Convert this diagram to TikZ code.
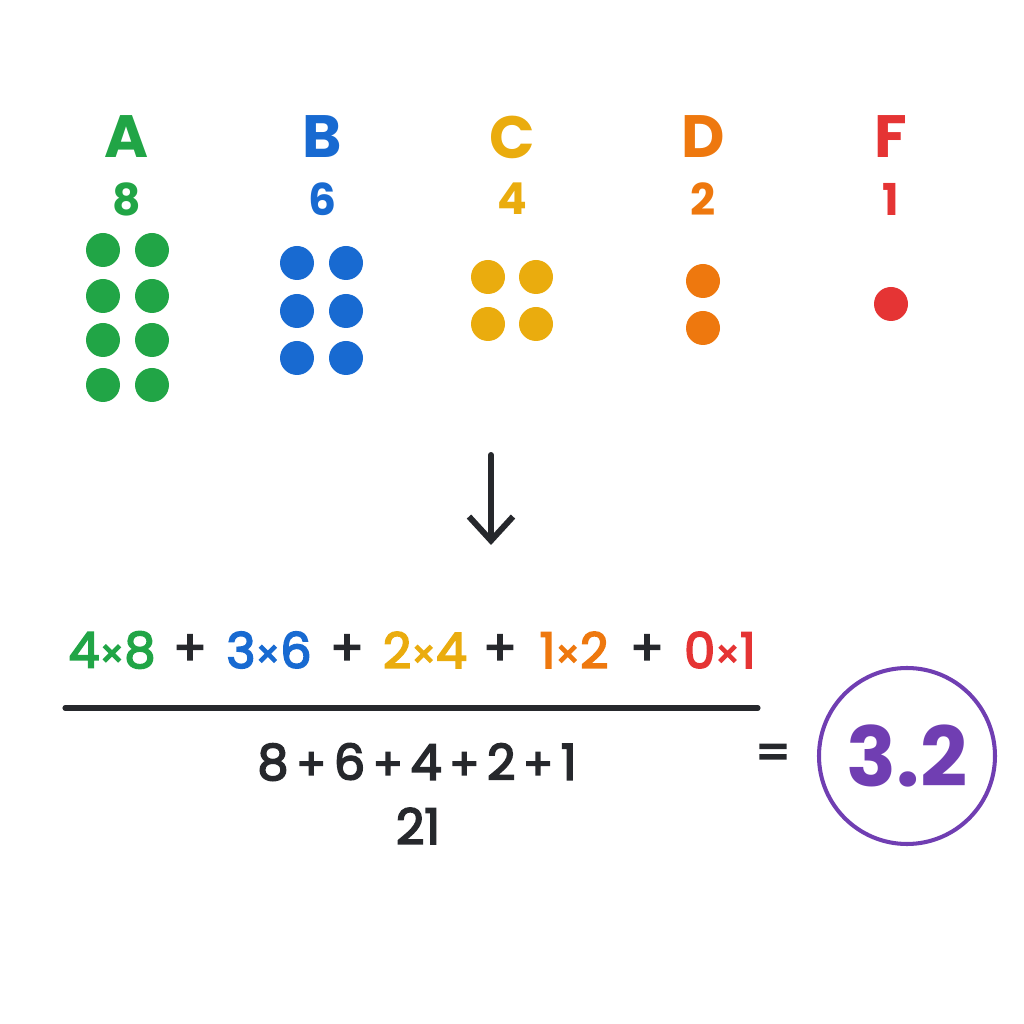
\documentclass[tikz,border=0pt]{standalone}
\usepackage{fontspec}
\setmainfont{Poppins}
\newfontfamily\medfont{Poppins}[FakeBold=3.5]
\usetikzlibrary{arrows.meta}

\definecolor{gradeA}{RGB}{33,165,70}
\definecolor{gradeB}{RGB}{24,106,209}
\definecolor{gradeC}{RGB}{234,172,14}
\definecolor{gradeD}{RGB}{238,120,14}
\definecolor{gradeF}{RGB}{229,52,52}
\definecolor{result}{RGB}{112,62,178}
\definecolor{ink}{RGB}{38,40,44}

\newcommand{\by}{{\fontsize{11}{13}\selectfont×}}
\newcommand{\pl}{\kern2.2pt{\fontsize{12.5}{15}\selectfont+}\kern2.2pt}

\begin{document}
\begin{tikzpicture}[>=latex]
\tikzstyle{grade}=[font=\fontsize{17}{20}\selectfont\bfseries, inner sep=0pt]
\tikzstyle{count}=[font=\fontsize{12.5}{15}\selectfont\bfseries, inner sep=0pt]
\tikzstyle{term}=[font=\fontsize{14}{17}\selectfont\medfont, inner sep=0pt]
\tikzstyle{dot}=[circle, inner sep=0pt, minimum size=0.34cm]

\useasboundingbox (0,0) rectangle (10.24,10.24);

% grade letters and counts
\node[grade, text=gradeA] (gA) at (1.27,8.87) {A};
\node[grade, text=gradeB] (gB) at (3.22,8.87) {B};
\node[grade, text=gradeC] (gC) at (5.12,8.87) {C};
\node[grade, text=gradeD] (gD) at (7.03,8.87) {D};
\node[grade, text=gradeF] (gF) at (8.91,8.87) {F};

\node[count, text=gradeA] (nA) at (1.27,8.25) {8};
\node[count, text=gradeB] (nB) at (3.22,8.25) {6};
\node[count, text=gradeC] (nC) at (5.12,8.25) {4};
\node[count, text=gradeD] (nD) at (7.03,8.25) {2};
\node[count, text=gradeF] (nF) at (8.91,8.25) {1};

% dots
\foreach \y in {7.74,7.28,6.84,6.39}
  \foreach \x in {1.03,1.52}
    \node[dot, fill=gradeA] at (\x,\y) {};
\foreach \y in {7.61,7.13,6.66}
  \foreach \x in {2.97,3.46}
    \node[dot, fill=gradeB] at (\x,\y) {};
\foreach \y in {7.47,7.00}
  \foreach \x in {4.88,5.36}
    \node[dot, fill=gradeC] at (\x,\y) {};
\node[dot, fill=gradeD] (dD1) at (7.03,7.43) {};
\node[dot, fill=gradeD] (dD2) at (7.03,6.96) {};
\node[dot, fill=gradeF] (dF) at (8.91,7.20) {};

% arrow down
\coordinate (top) at (4.91,5.69);
\coordinate (bot) at (4.91,4.79);
\draw[-{Straight Barb[length=2.4mm,width=4.4mm]}, line width=1.7pt, line cap=round, ink] (top) -- (bot);

% weighted sum
\node[term, text=gradeA] (tA) at (1.12,3.74) {4\by8};
\node[term, text=ink] (p1) at (1.90,3.74) {+};
\node[term, text=gradeB] (tB) at (2.69,3.74) {3\by6};
\node[term, text=ink] (p2) at (3.47,3.74) {+};
\node[term, text=gradeC] (tC) at (4.25,3.74) {2\by4};
\node[term, text=ink] (p3) at (5.00,3.74) {+};
\node[term, text=gradeD] (tD) at (5.74,3.74) {1\by2};
\node[term, text=ink] (p4) at (6.47,3.74) {+};
\node[term, text=gradeF] (tF) at (7.20,3.74) {0\by1};

\coordinate (barL) at (0.65,3.16);
\coordinate (barR) at (7.58,3.16);
\draw[line width=1.45pt, line cap=round, ink] (barL) -- (barR);

\node[term, text=ink] (den) at (4.17,2.62) {8\pl6\pl4\pl2\pl1};
\node[term, text=ink] (tot) at (4.18,1.98) {21};

% result
\node[term, text=ink] (eq) at (7.73,2.67) {=};
\node[circle, draw=result, line width=1.15pt, minimum size=1.76cm, inner sep=0pt,
  text=result, font=\fontsize{23.5}{26}\selectfont\bfseries] (res) at (9.07,2.68) {3.2};

\end{tikzpicture}
\end{document}
